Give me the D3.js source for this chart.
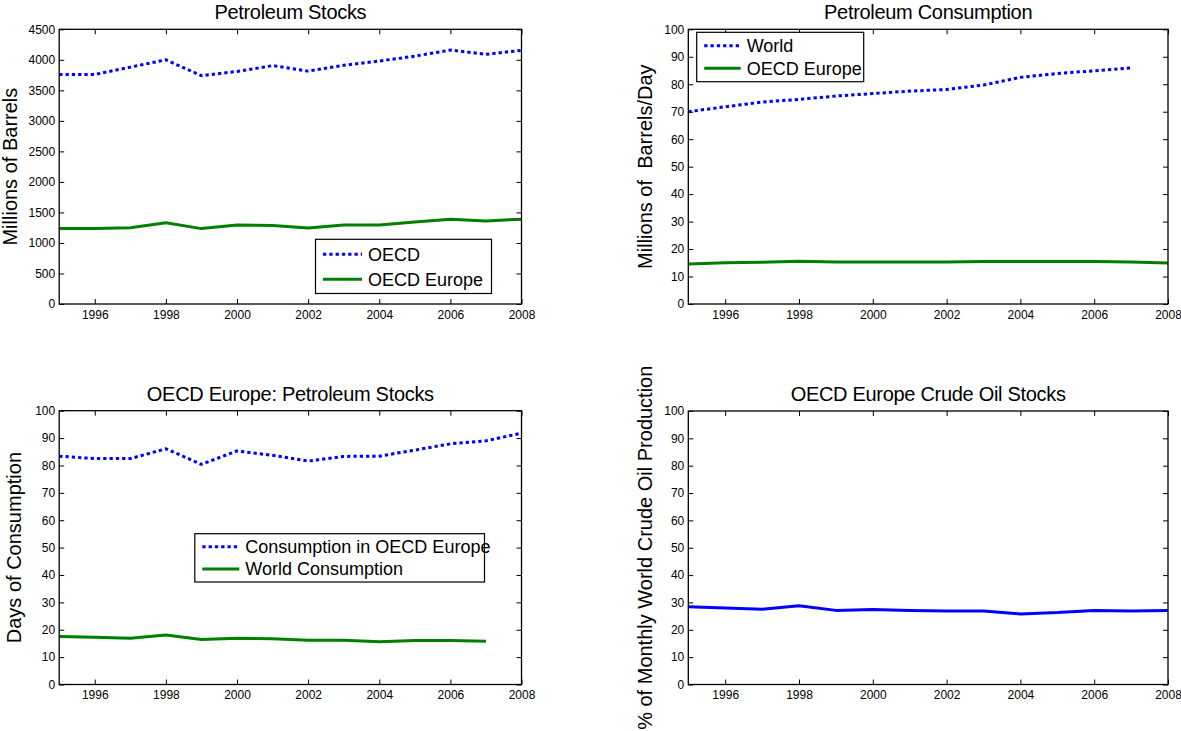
<!DOCTYPE html>
<html>
<head>
<meta charset="utf-8">
<script src="https://cdn.jsdelivr.net/npm/d3@7/dist/d3.min.js"></script>
<style>
  html, body { margin: 0; padding: 0; background: #fff; }
  svg { display: block; }
  text { font-family: "Liberation Sans", Arial, Helvetica, sans-serif; fill: #000; }
</style>
</head>
<body>
<svg id="chart" width="1181" height="731"></svg>
<script>
// ---------------- DATA ----------------
const years = [1995, 1996, 1997, 1998, 1999, 2000, 2001, 2002, 2003, 2004, 2005, 2006, 2007, 2008];
const yearsTo2007 = [1995, 1996, 1997, 1998, 1999, 2000, 2001, 2002, 2003, 2004, 2005, 2006, 2007];
const xTickYears = [1996, 1998, 2000, 2002, 2004, 2006, 2008];

// Petroleum Stocks (Millions of Barrels)
const oecdStocks   = [3760, 3760, 3880, 4000, 3740, 3810, 3905, 3815, 3910, 3980, 4060, 4160, 4090, 4155];
const europeStocks = [1235, 1235, 1250, 1330, 1235, 1295, 1285, 1245, 1295, 1295, 1345, 1390, 1360, 1390];
const stockTicks   = [0, 500, 1000, 1500, 2000, 2500, 3000, 3500, 4000, 4500];

// Petroleum Consumption (Millions of Barrels/Day)
const worldConsumption  = [70.0, 71.8, 73.5, 74.5, 75.7, 76.6, 77.5, 78.1, 79.7, 82.5, 83.9, 84.9, 85.9];
const europeConsumption = [14.6, 15.0, 15.2, 15.6, 15.3, 15.3, 15.3, 15.3, 15.5, 15.5, 15.5, 15.5, 15.3, 14.9];

// OECD Europe: Petroleum Stocks (Days of Consumption)
const daysEuropeConsumption = [83.4, 82.5, 82.5, 86.1, 80.4, 85.3, 83.7, 81.6, 83.3, 83.4, 85.6, 87.9, 89.0, 91.8];
const daysWorldConsumption  = [17.5, 17.3, 16.9, 18.1, 16.4, 16.9, 16.7, 16.2, 16.2, 15.6, 16.1, 16.1, 15.8];

// OECD Europe Crude Oil Stocks (% of monthly world crude production)
const crudeStockPct = [28.4, 28.0, 27.5, 28.8, 27.1, 27.4, 27.1, 26.9, 26.9, 25.8, 26.3, 27.1, 26.9, 27.1];

const pctTicks = [0, 10, 20, 30, 40, 50, 60, 70, 80, 90, 100];

// ---------------- STYLES ----------------
const BLUE = "#0000ff";
const GREEN = "#008000";
const DOTTED = "3.3,3";

const svg = d3.select("#chart");

function zip(xs, ys) { return xs.map((x, i) => [x, ys[i]]); }

const panels = [
  {
    box: { x0: 59.2, x1: 521.5, y0: 29.3, y1: 304 },
    title: "Petroleum Stocks",
    ylabel: "Millions of Barrels", ylabelX: 16.5,
    yDomain: [0, 4500], yTicks: stockTicks,
    series: [
      { name: "OECD", xs: years, ys: oecdStocks, color: BLUE, dash: DOTTED },
      { name: "OECD Europe", xs: years, ys: europeStocks, color: GREEN, dash: null }
    ],
    legend: { x: 315.5, y: 239.3, w: 176, h: 54.2, rows: [14.9, 40], lineLen: 39 }
  },
  {
    box: { x0: 688.3, x1: 1168, y0: 29.3, y1: 304 },
    title: "Petroleum Consumption",
    ylabel: "Millions of  Barrels/Day", ylabelX: 651.5,
    yDomain: [0, 100], yTicks: pctTicks,
    series: [
      { name: "World", xs: yearsTo2007, ys: worldConsumption, color: BLUE, dash: DOTTED },
      { name: "OECD Europe", xs: years, ys: europeConsumption, color: GREEN, dash: null }
    ],
    legend: { x: 696.7, y: 32.3, w: 167, h: 49.4, rows: [13.4, 36], lineLen: 36.5 }
  },
  {
    box: { x0: 59.2, x1: 521.5, y0: 410.7, y1: 684.5 },
    title: "OECD Europe: Petroleum Stocks",
    ylabel: "Days of Consumption", ylabelX: 21,
    yDomain: [0, 100], yTicks: pctTicks,
    series: [
      { name: "Consumption in OECD Europe", xs: years, ys: daysEuropeConsumption, color: BLUE, dash: DOTTED },
      { name: "World Consumption", xs: yearsTo2007, ys: daysWorldConsumption, color: GREEN, dash: null }
    ],
    legend: { x: 194.8, y: 533.7, w: 289.7, h: 48.3, rows: [13, 35.3], lineLen: 37 }
  },
  {
    box: { x0: 688.3, x1: 1168, y0: 411, y1: 684.5 },
    title: "OECD Europe Crude Oil Stocks",
    ylabel: "% of Monthly World Crude Oil Production", ylabelX: 651.5,
    yDomain: [0, 100], yTicks: pctTicks,
    series: [
      { name: "Crude Oil Stocks", xs: years, ys: crudeStockPct, color: BLUE, dash: null }
    ],
    legend: null
  }
];

panels.forEach(p => {
  const b = p.box;
  const x = d3.scaleLinear().domain([1995, 2008]).range([b.x0, b.x1]);
  const y = d3.scaleLinear().domain(p.yDomain).range([b.y1, b.y0]);
  const g = svg.append("g");

  const clipId = "clip" + Math.round(b.x0) + "_" + Math.round(b.y0);
  svg.append("clipPath").attr("id", clipId)
    .append("rect").attr("x", b.x0).attr("y", b.y0 - 2)
    .attr("width", b.x1 - b.x0 + 1).attr("height", b.y1 - b.y0 + 4);

  const line = d3.line().x(d => x(d[0])).y(d => y(d[1]));
  p.series.forEach(s => {
    g.append("path")
      .attr("clip-path", `url(#${clipId})`)
      .attr("d", line(zip(s.xs, s.ys)))
      .attr("fill", "none")
      .attr("stroke", s.color)
      .attr("stroke-width", 3)
      .attr("stroke-linejoin", "round")
      .attr("stroke-dasharray", s.dash);
  });

  const axB = d3.axisBottom(x).tickValues(xTickYears).tickFormat(d3.format("d"))
    .tickSizeInner(-5).tickSizeOuter(0).tickPadding(6);
  const axT = d3.axisTop(x).tickValues(xTickYears).tickFormat("")
    .tickSizeInner(-5).tickSizeOuter(0);
  const axL = d3.axisLeft(y).tickValues(p.yTicks).tickFormat(d3.format("d"))
    .tickSizeInner(-5).tickSizeOuter(0).tickPadding(4);
  const axR = d3.axisRight(y).tickValues(p.yTicks).tickFormat("")
    .tickSizeInner(-5).tickSizeOuter(0);

  const fix = sel => {
    sel.select(".domain").remove();
    sel.selectAll("line").attr("stroke", "#000").attr("stroke-width", 1);
    sel.selectAll("text").style("font-family", '"Liberation Sans", Arial, sans-serif')
      .attr("font-size", 12).attr("fill", "#000");
  };
  g.append("g").attr("transform", `translate(0,${b.y1})`).call(axB).call(fix);
  g.append("g").attr("transform", `translate(0,${b.y0})`).call(axT).call(fix);
  g.append("g").attr("transform", `translate(${b.x0},0)`).call(axL).call(fix);
  g.append("g").attr("transform", `translate(${b.x1},0)`).call(axR).call(fix);

  g.append("rect").attr("x", b.x0).attr("y", b.y0)
    .attr("width", b.x1 - b.x0).attr("height", b.y1 - b.y0)
    .attr("fill", "none").attr("stroke", "#000").attr("stroke-width", 1.3);

  g.append("text")
    .attr("x", (b.x0 + b.x1) / 2).attr("y", b.y0 - 10)
    .attr("text-anchor", "middle").attr("font-size", 20)
    .style("letter-spacing", "-0.3px")
    .text(p.title);

  g.append("text")
    .attr("transform", `translate(${p.ylabelX},${(b.y0 + b.y1) / 2}) rotate(-90)`)
    .attr("text-anchor", "middle").attr("font-size", 20)
    .style("white-space", "pre")
    .text(p.ylabel);

  if (p.legend) {
    const L = p.legend;
    const lg = g.append("g");
    lg.append("rect").attr("x", L.x).attr("y", L.y).attr("width", L.w).attr("height", L.h)
      .attr("fill", "#fff").attr("stroke", "#000").attr("stroke-width", 1.2);
    p.series.forEach((s, i) => {
      const ry = L.y + L.rows[i];
      lg.append("line")
        .attr("x1", L.x + 7.5).attr("x2", L.x + 7.5 + L.lineLen)
        .attr("y1", ry).attr("y2", ry)
        .attr("stroke", s.color).attr("stroke-width", 3)
        .attr("stroke-dasharray", s.dash);
      lg.append("text")
        .attr("x", L.x + 7.5 + L.lineLen + 6).attr("y", ry + 6.3)
        .attr("font-size", 18)
        .text(s.name);
    });
  }
});
</script>
</body>
</html>
